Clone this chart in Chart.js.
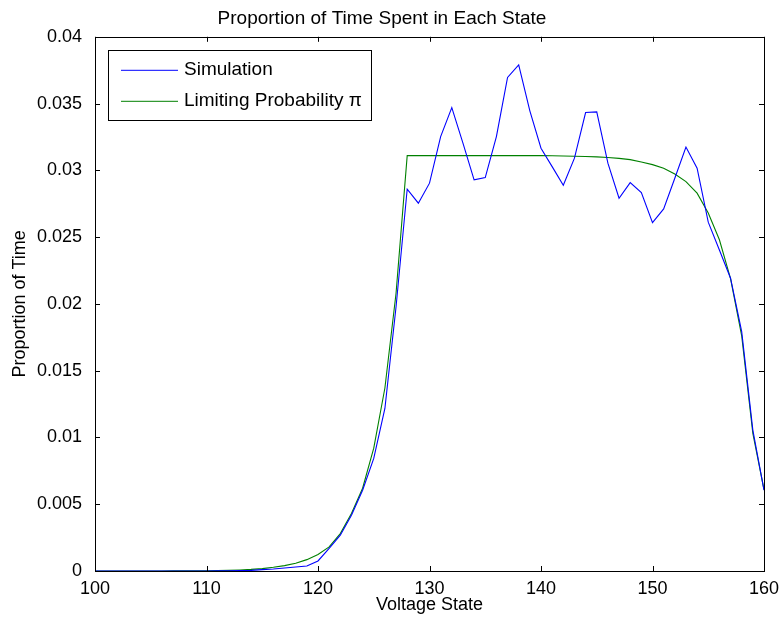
<!DOCTYPE html>
<html>
<head>
<meta charset="utf-8">
<script src="https://cdn.jsdelivr.net/npm/chart.js@4/dist/chart.umd.min.js"></script>
<style>
  html, body { margin: 0; padding: 0; background: #fff; }
  #wrap { width: 780px; height: 624px; }
</style>
</head>
<body>
<div id="wrap"><canvas id="state-chart" width="780" height="624"></canvas></div>
<script>
// voltage states 100..160
var states = [];
for (var s = 100; s <= 160; s++) states.push(s);

var simulation = [
  0, 0, 0, 0, 0, 0, 0, 0, 0, 0,
  0, 0.00001, 0.00002, 0.00003, 0.00005, 0.0001, 0.00015, 0.00022, 0.0003, 0.00038,
  0.00075, 0.0017, 0.00268, 0.00418, 0.00605, 0.00843, 0.01217, 0.01979, 0.0286, 0.02754,
  0.02904, 0.03253, 0.0347, 0.03204, 0.02929, 0.02946, 0.03253, 0.03696, 0.0379, 0.03446,
  0.03166, 0.03028, 0.02889, 0.03091, 0.03433, 0.03438, 0.03054, 0.02791, 0.02908, 0.02833,
  0.02609, 0.02711, 0.02941, 0.03174, 0.03016, 0.02612, 0.02404, 0.02192, 0.01792, 0.01055,
  0.00605
];

var limiting = [
  0, 0, 0, 0, 0, 0, 0.000005, 0.000008, 0.00001, 0.000015,
  0.00002, 0.00003, 0.00005, 0.00008, 0.00012, 0.00018, 0.00028, 0.0004, 0.00058, 0.00085,
  0.00123, 0.0018, 0.0028, 0.0043, 0.0062, 0.0092, 0.0137, 0.0208, 0.0311, 0.0311,
  0.0311, 0.0311, 0.0311, 0.0311, 0.0311, 0.0311, 0.0311, 0.0311, 0.0311, 0.0311,
  0.0311, 0.03109, 0.03108, 0.03106, 0.03104, 0.03101, 0.03096, 0.0309, 0.0308, 0.03063,
  0.03043, 0.03016, 0.02972, 0.02916, 0.02829, 0.0268, 0.0248, 0.0219, 0.0176, 0.0103,
  0.0061
];

var xTicks = [100, 110, 120, 130, 140, 150, 160];
var yTicks = [0, 0.005, 0.01, 0.015, 0.02, 0.025, 0.03, 0.035, 0.04];
var yTickLabels = ['0', '0.005', '0.01', '0.015', '0.02', '0.025', '0.03', '0.035', '0.04'];

var FONT = '"Liberation Sans", Arial, Helvetica, sans-serif';

function points(ys) {
  return states.map(function (x, i) { return { x: x, y: ys[i] }; });
}

// matlab style box, inward ticks and legend
var matlabBox = {
  id: 'matlabBox',
  afterDraw: function (chart) {
    var ctx = chart.ctx;
    var a = chart.chartArea;
    var xs = chart.scales.x, ys = chart.scales.y;
    var len = 5;
    ctx.save();
    ctx.strokeStyle = '#000';
    ctx.lineWidth = 1;
    ctx.beginPath();
    xTicks.forEach(function (v) {
      var px = Math.round(xs.getPixelForValue(v)) + 0.5;
      ctx.moveTo(px, a.bottom); ctx.lineTo(px, a.bottom - len);
      ctx.moveTo(px, a.top); ctx.lineTo(px, a.top + len);
    });
    yTicks.forEach(function (v) {
      var py = Math.round(ys.getPixelForValue(v)) + 0.5;
      ctx.moveTo(a.left, py); ctx.lineTo(a.left + len, py);
      ctx.moveTo(a.right, py); ctx.lineTo(a.right - len, py);
    });
    ctx.stroke();
    ctx.strokeRect(Math.round(a.left) + 0.5, Math.round(a.top) + 0.5,
      Math.round(a.right - a.left), Math.round(a.bottom - a.top));

    // legend
    var lx = a.left + 13, ly = a.top + 13, lw = 263, lh = 70;
    ctx.fillStyle = '#fff';
    ctx.fillRect(lx, ly, lw, lh);
    ctx.strokeRect(Math.round(lx) + 0.5, Math.round(ly) + 0.5, lw, lh);
    ctx.font = '19px ' + FONT;
    ctx.textBaseline = 'middle';
    chart.data.datasets.forEach(function (ds, i) {
      var yy = ly + 20 + i * 31;
      ctx.strokeStyle = ds.borderColor;
      ctx.beginPath();
      ctx.moveTo(lx + 13, yy + 0.5); ctx.lineTo(lx + 70, yy + 0.5);
      ctx.stroke();
      ctx.fillStyle = '#000';
      ctx.fillText(ds.label, lx + 76, yy);
    });
    ctx.restore();
  }
};

var ctx = document.getElementById('state-chart').getContext('2d');
var chart = new Chart(ctx, {
  type: 'line',
  data: {
    datasets: [{
      label: 'Simulation',
      data: points(simulation),
      borderColor: '#0000ff',
      borderWidth: 1.1,
      pointRadius: 0,
      tension: 0
    }, {
      label: 'Limiting Probability \u03c0',
      data: points(limiting),
      borderColor: '#008000',
      borderWidth: 1.1,
      pointRadius: 0,
      tension: 0
    }]
  },
  options: {
    responsive: false,
    animation: false,
    layout: { padding: { left: 0, right: 16, top: 0, bottom: 0 } },
    plugins: {
      legend: { display: false },
      tooltip: { enabled: false },
      title: {
        display: true,
        text: 'Proportion of Time Spent in Each State',
        color: '#000',
        font: { family: FONT, size: 19, weight: 'normal' },
        padding: { top: 7, bottom: 7 }
      }
    },
    scales: {
      x: {
        type: 'linear',
        min: 100,
        max: 160,
        afterBuildTicks: function (scale) {
          scale.ticks = xTicks.map(function (v) { return { value: v }; });
        },
        afterFit: function (scale) {
          scale.height = 53;
          scale.paddingLeft = 0;
          scale.paddingRight = 0;
        },
        grid: { display: false, drawTicks: false },
        border: { display: false },
        ticks: {
          color: '#000',
          padding: 7,
          maxRotation: 0,
          font: { family: FONT, size: 18 }
        },
        title: {
          display: true,
          text: 'Voltage State',
          color: '#000',
          padding: { top: 0, bottom: 8 },
          font: { family: FONT, size: 18 }
        }
      },
      y: {
        type: 'linear',
        min: 0,
        max: 0.04,
        afterBuildTicks: function (scale) {
          scale.ticks = yTicks.map(function (v) { return { value: v }; });
        },
        afterFit: function (scale) { scale.width = 95; },
        grid: { display: false, drawTicks: false },
        border: { display: false },
        ticks: {
          color: '#000',
          padding: 13,
          font: { family: FONT, size: 18 },
          callback: function (v) {
            var i = yTicks.indexOf(v);
            return i >= 0 ? yTickLabels[i] : '';
          }
        },
        title: {
          display: true,
          text: 'Proportion of Time',
          color: '#000',
          padding: { top: 9, bottom: 0 },
          font: { family: FONT, size: 18 }
        }
      }
    }
  },
  plugins: [matlabBox]
});
</script>
</body>
</html>
